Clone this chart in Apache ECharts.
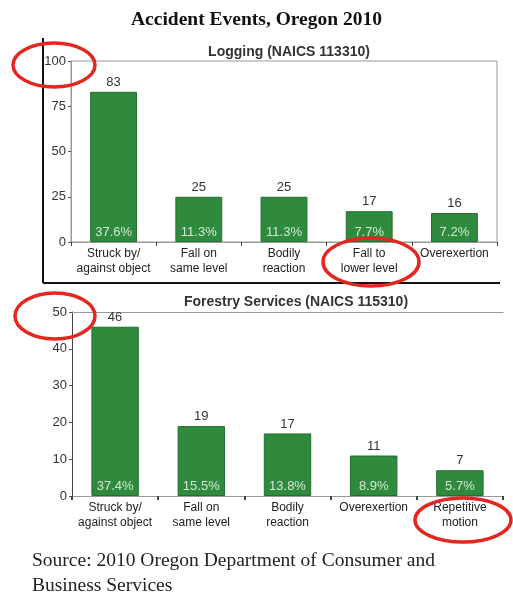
<!DOCTYPE html>
<html>
<head>
<meta charset="utf-8">
<script src="https://cdn.jsdelivr.net/npm/echarts@6/dist/echarts.min.js"></script>
<style>
  html, body { margin: 0; padding: 0; background: #fff; }
  #chart { width: 513px; height: 596px; }
</style>
</head>
<body>
<div id="chart"></div>
<script>
// Logging (NAICS 113310)
const loggingCategories = ['Struck by/\nagainst object', 'Fall on\nsame level', 'Bodily\nreaction', 'Fall to\nlower level', 'Overexertion'];
const loggingCounts = [83, 25, 25, 17, 16];
const loggingShares = ['37.6%', '11.3%', '11.3%', '7.7%', '7.2%'];

// Forestry Services (NAICS 115310)
const forestryCategories = ['Struck by/\nagainst object', 'Fall on\nsame level', 'Bodily\nreaction', 'Overexertion', 'Repetitive\nmotion'];
const forestryCounts = [46, 19, 17, 11, 7];
const forestryShares = ['37.4%', '15.5%', '13.8%', '8.9%', '5.7%'];

const loggingTicks = { min: 0, max: 100, interval: 25 };
const forestryTicks = { min: 0, max: 50, interval: 10 };

const SANS = '"Liberation Sans", Arial, sans-serif';
const SERIF = '"Liberation Serif", "DejaVu Serif", serif';
const BAR = '#2f8a3e';
const BAR_EDGE = '#226f30';

const chart = echarts.init(document.getElementById('chart'), null, { renderer: 'canvas' });

function yAxisFor(gridIndex, ticks) {
  return {
    type: 'value', gridIndex: gridIndex,
    min: ticks.min, max: ticks.max, interval: ticks.interval,
    axisLine: { show: true, lineStyle: { color: gridIndex === 0 ? '#999' : '#444', width: 1 } },
    axisTick: { show: true, length: 3, lineStyle: { color: '#555' } },
    splitLine: { show: false },
    axisLabel: { color: '#333', fontFamily: SANS, fontSize: 13, margin: 5 }
  };
}

function xAxisFor(gridIndex, cats) {
  return {
    type: 'category', gridIndex: gridIndex, data: cats,
    axisLine: { show: true, lineStyle: { color: '#999', width: 1 } },
    axisTick: { show: true, length: 4, lineStyle: { color: '#444', width: gridIndex === 0 ? 1 : 2 } },
    axisLabel: { color: '#222', fontFamily: SANS, fontSize: 12, lineHeight: 15, margin: 4, interval: 0 }
  };
}

function countSeries(idx, data) {
  return {
    type: 'bar', xAxisIndex: idx, yAxisIndex: idx, data: data,
    barCategoryGap: '45%',
    itemStyle: { color: BAR, borderColor: BAR_EDGE, borderWidth: 1 },
    label: { show: true, position: 'top', distance: 3, color: '#333', fontFamily: SANS, fontSize: 13 },
    silent: true, animation: false, z: 2
  };
}

function shareSeries(idx, data, shares) {
  return {
    type: 'bar', xAxisIndex: idx, yAxisIndex: idx, data: data,
    barCategoryGap: '45%', barGap: '-100%',
    itemStyle: { color: 'rgba(0,0,0,0)' },
    label: {
      show: true, position: 'insideBottom', distance: 3,
      color: '#d2e8d2', fontFamily: SANS, fontSize: 13,
      formatter: p => shares[p.dataIndex]
    },
    silent: true, animation: false, z: 3
  };
}

function ring(cx, cy, rx, ry) {
  return {
    type: 'ellipse', shape: { cx: cx, cy: cy, rx: rx, ry: ry },
    style: { fill: 'none', stroke: '#e3261f', lineWidth: 3.5 }, z: 100
  };
}

chart.setOption({
  backgroundColor: '#fff',
  animation: false,
  title: [
    { text: 'Accident Events, Oregon 2010', left: 'center', top: 5,
      textStyle: { fontFamily: SERIF, fontSize: 19.5, fontWeight: 'bold', color: '#111' } },
    { text: 'Logging (NAICS 113310)', left: 284, top: 40, textAlign: 'center',
      textStyle: { fontFamily: SANS, fontSize: 14, fontWeight: 'bold', color: '#333' } },
    { text: 'Forestry Services (NAICS 115310)', left: 291, top: 290, textAlign: 'center',
      textStyle: { fontFamily: SANS, fontSize: 14, fontWeight: 'bold', color: '#333' } }
  ],
  grid: [
    { left: 71, right: 16, top: 61, bottom: 354, show: true, borderColor: '#999', borderWidth: 1, backgroundColor: 'transparent' },
    { left: 72, right: 10, top: 312, bottom: 100 }
  ],
  xAxis: [
    xAxisFor(0, loggingCategories),
    xAxisFor(1, forestryCategories),
    { type: 'category', gridIndex: 1, position: 'top', data: forestryCategories,
      axisLine: { show: true, lineStyle: { color: '#999' } },
      axisTick: { show: false }, axisLabel: { show: false } }
  ],
  yAxis: [yAxisFor(0, loggingTicks), yAxisFor(1, forestryTicks)],
  series: [
    countSeries(0, loggingCounts),
    shareSeries(0, loggingCounts, loggingShares),
    countSeries(1, forestryCounts),
    shareSeries(1, forestryCounts, forestryShares)
  ],
  graphic: [
    // frame edges around the upper panel
    { type: 'line', shape: { x1: 43, y1: 38, x2: 43, y2: 283 }, style: { stroke: '#111', lineWidth: 2 } },
    { type: 'line', shape: { x1: 43, y1: 283, x2: 500, y2: 283 }, style: { stroke: '#111', lineWidth: 2 } },
    // highlight rings
    ring(54, 65, 41, 22),
    ring(371, 262, 48, 24),
    ring(55, 316, 40, 23),
    ring(463, 520, 48, 22),
    // source note
    { type: 'text', left: 32, top: 548,
      style: { text: 'Source: 2010 Oregon Department of Consumer and\nBusiness Services',
        font: '19.5px ' + SERIF, fill: '#222', lineHeight: 25 } }
  ]
});
</script>
</body>
</html>
